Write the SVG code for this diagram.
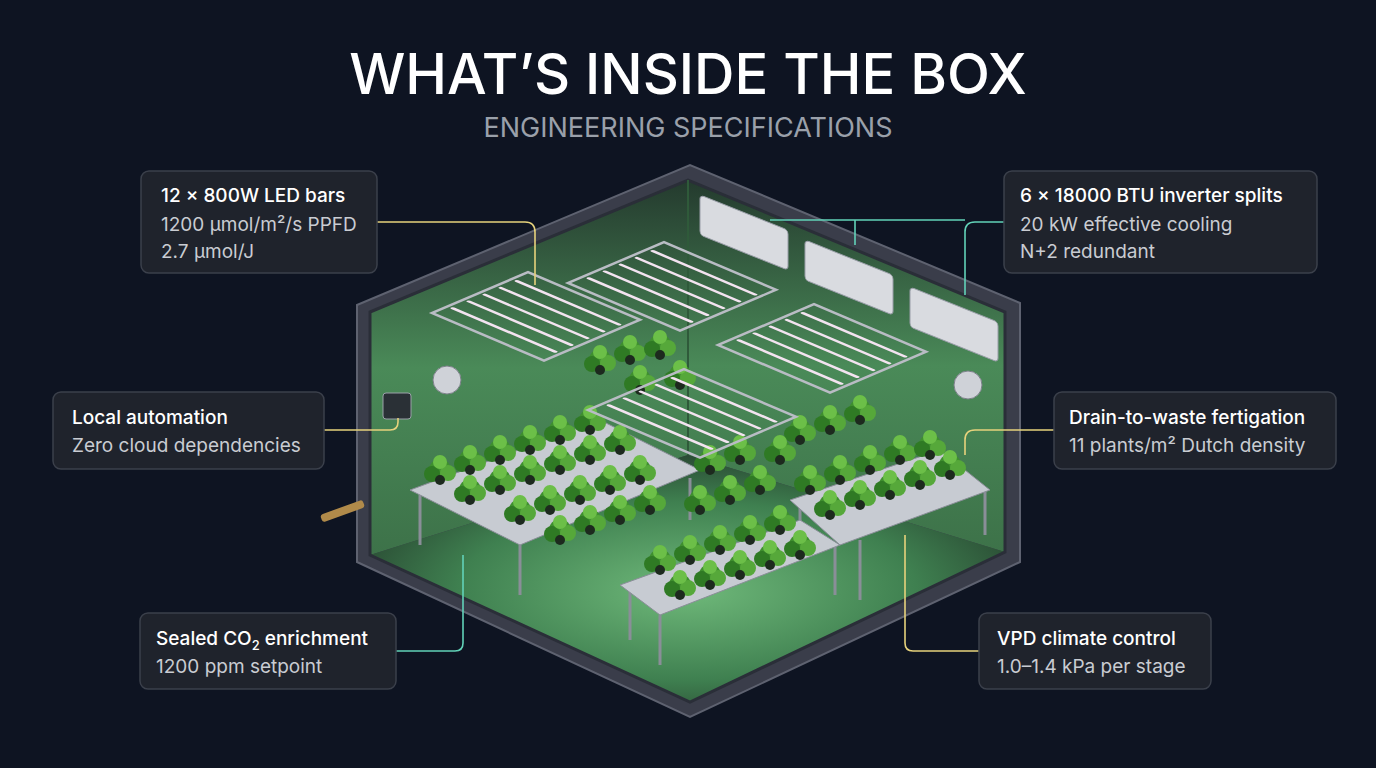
<svg xmlns="http://www.w3.org/2000/svg" width="1376" height="768" viewBox="0 0 1376 768">
<defs>
<style>
.t{font-family:"Inter","Liberation Sans",sans-serif}
.box{fill:#1f232c;stroke:#3b404b;stroke-width:1.5}
.h{font-size:19px;fill:#fff;font-weight:500}
.s{font-size:19px;fill:#c9ccd2}
.ly{fill:none;stroke:#e6d27c;stroke-width:1.6}
.lt{fill:none;stroke:#62d2b8;stroke-width:1.6}
.bar{stroke:#f3e3f0;stroke-width:4;stroke-linecap:round}
.frame{fill:none;stroke:#b9bcc4;stroke-width:4}
.leg{stroke:#8a8e98;stroke-width:3}
</style>
<radialGradient id="glow" cx="0.5" cy="0.55" r="0.6">
<stop offset="0" stop-color="#6fb97a"/><stop offset="0.6" stop-color="#3f8050"/><stop offset="1" stop-color="#243d2c"/>
</radialGradient>
<linearGradient id="wall" x1="0" y1="0" x2="0" y2="1">
<stop offset="0" stop-color="#243a2e"/><stop offset="0.5" stop-color="#4a8a58"/><stop offset="1" stop-color="#3d7249"/>
</linearGradient>
<g id="plant">
<circle cx="0" cy="0" r="11" fill="#3f8f2f"/>
<circle cx="-8" cy="4" r="8" fill="#2f7a24"/>
<circle cx="8" cy="3" r="8" fill="#56a83a"/>
<circle cx="0" cy="-8" r="7" fill="#6cbf48"/>
<circle cx="0" cy="10" r="5" fill="#1d2a1e"/>
</g>
<g id="fix">
<rect x="0" y="0" width="140" height="120" class="frame"/>
<line x1="6" y1="20" x2="134" y2="20" class="bar"/><line x1="6" y1="40" x2="134" y2="40" class="bar"/>
<line x1="6" y1="60" x2="134" y2="60" class="bar"/><line x1="6" y1="80" x2="134" y2="80" class="bar"/>
<line x1="6" y1="100" x2="134" y2="100" class="bar"/>
</g>
</defs>
<rect width="1376" height="768" fill="#0e1422"/>
<text class="t" x="688" y="94" text-anchor="middle" font-size="56" font-weight="500" fill="#fff">WHAT’S INSIDE THE BOX</text>
<text class="t" x="688" y="137" text-anchor="middle" font-size="27" fill="#9aa0aa">ENGINEERING SPECIFICATIONS</text>

<g id="room">
<polygon points="357,305 690,165 1020,303 1020,562 690,717 357,562" fill="#3a3d4a" stroke="#5e6270" stroke-width="2"/>
<polygon points="370,312 688,180 688,455 370,555" fill="url(#wall)"/>
<polygon points="688,180 1005,312 1005,552 688,455" fill="url(#wall)"/>
<polygon points="370,555 688,455 1005,552 690,702" fill="url(#glow)"/>
<polygon points="370,312 688,180 1005,312 1005,552 690,702 370,555" fill="none" stroke="#2a2e38" stroke-width="3"/>
<line x1="688" y1="180" x2="688" y2="455" stroke="#2f5a3a" stroke-width="2"/>
</g>

<g id="ac">
<g transform="matrix(1,0.4,0,1,700,195)"><rect width="88" height="40" rx="4" fill="#d9dbe0" stroke="#9a9ea8"/></g>
<g transform="matrix(1,0.4,0,1,805,240)"><rect width="88" height="40" rx="4" fill="#d9dbe0" stroke="#9a9ea8"/></g>
<g transform="matrix(1,0.4,0,1,910,287)"><rect width="88" height="40" rx="4" fill="#d9dbe0" stroke="#9a9ea8"/></g>
</g>

<g id="plants">
<line class="leg" x1="420" y1="495" x2="420" y2="545"/><line class="leg" x1="520" y1="545" x2="520" y2="595"/><line class="leg" x1="690" y1="478" x2="690" y2="520"/>
<line class="leg" x1="630" y1="590" x2="630" y2="640"/><line class="leg" x1="660" y1="615" x2="660" y2="665"/><line class="leg" x1="835" y1="545" x2="835" y2="595"/>
<line class="leg" x1="800" y1="505" x2="800" y2="550"/><line class="leg" x1="860" y1="540" x2="860" y2="600"/><line class="leg" x1="985" y1="492" x2="985" y2="535"/>
<polygon points="410,490 600,420 700,470 520,545" fill="#c7cbd2" stroke="#8a8e98"/>
<polygon points="620,585 800,520 840,545 660,615" fill="#c7cbd2" stroke="#8a8e98"/>
<polygon points="790,500 940,450 990,490 840,545" fill="#c7cbd2" stroke="#8a8e98"/>
<g>
<use href="#plant" x="440" y="470"/><use href="#plant" x="470" y="460"/><use href="#plant" x="500" y="450"/><use href="#plant" x="530" y="440"/><use href="#plant" x="560" y="430"/><use href="#plant" x="590" y="420"/>
<use href="#plant" x="470" y="490"/><use href="#plant" x="500" y="480"/><use href="#plant" x="530" y="470"/><use href="#plant" x="560" y="460"/><use href="#plant" x="590" y="450"/><use href="#plant" x="620" y="440"/>
<use href="#plant" x="520" y="510"/><use href="#plant" x="550" y="500"/><use href="#plant" x="580" y="490"/><use href="#plant" x="610" y="480"/><use href="#plant" x="640" y="470"/>
<use href="#plant" x="600" y="360"/><use href="#plant" x="630" y="350"/><use href="#plant" x="660" y="345"/><use href="#plant" x="640" y="380"/><use href="#plant" x="680" y="375"/>
<use href="#plant" x="560" y="530"/><use href="#plant" x="590" y="520"/><use href="#plant" x="620" y="510"/><use href="#plant" x="650" y="500"/>
<use href="#plant" x="660" y="560"/><use href="#plant" x="690" y="550"/><use href="#plant" x="720" y="540"/><use href="#plant" x="750" y="530"/><use href="#plant" x="780" y="520"/>
<use href="#plant" x="680" y="585"/><use href="#plant" x="710" y="575"/><use href="#plant" x="740" y="565"/><use href="#plant" x="770" y="555"/><use href="#plant" x="800" y="545"/>
<use href="#plant" x="700" y="500"/><use href="#plant" x="730" y="490"/><use href="#plant" x="760" y="480"/><use href="#plant" x="710" y="460"/><use href="#plant" x="740" y="450"/>
<use href="#plant" x="810" y="480"/><use href="#plant" x="840" y="470"/><use href="#plant" x="870" y="460"/><use href="#plant" x="900" y="450"/><use href="#plant" x="930" y="445"/>
<use href="#plant" x="830" y="505"/><use href="#plant" x="860" y="495"/><use href="#plant" x="890" y="485"/><use href="#plant" x="920" y="475"/><use href="#plant" x="950" y="465"/>
<use href="#plant" x="800" y="430"/><use href="#plant" x="830" y="420"/><use href="#plant" x="860" y="410"/><use href="#plant" x="780" y="450"/>
</g>
</g>

<g id="lights">
<g transform="matrix(0.8,0.34,0.8,-0.34,432,313)"><use href="#fix"/></g>
<g transform="matrix(0.8,0.34,0.8,-0.34,568,283)"><use href="#fix"/></g>
<g transform="matrix(0.8,0.34,0.8,-0.34,588,410)"><use href="#fix"/></g>
<g transform="matrix(0.8,0.34,0.8,-0.34,718,345)"><use href="#fix"/></g>
</g>

<g id="devices">
<rect x="383" y="393" width="28" height="26" rx="3" fill="#2a3036" stroke="#9aa0a8"/>
<circle cx="447" cy="380" r="14" fill="#cfd2d8" stroke="#7d818a"/>
<circle cx="968" cy="385" r="14" fill="#cfd2d8" stroke="#7d818a"/>
<rect x="320" y="515" width="45" height="8" rx="3" fill="#b08a4a" transform="rotate(-20 320 515)"/>
</g>

<g id="connectors">
<path class="ly" d="M377,222 H525 Q535,222 535,232 V285"/>
<path class="lt" d="M1004,222 H975 Q965,222 965,232 V295"/>
<path class="lt" d="M770,220 H965 M855,220 V245"/>
<path class="ly" d="M324,430 H390 Q398,430 398,422 V418"/>
<path class="ly" d="M1054,430 H975 Q965,430 965,440 V455"/>
<path class="lt" d="M396,651 H455 Q463,651 463,643 V555"/>
<path class="ly" d="M979,651 H913 Q905,651 905,643 V535"/>
</g>

<g id="n1"><rect class="box" x="141" y="171" width="236" height="102" rx="8"/>
<text class="t h" x="161" y="202">12 × 800W LED bars</text><text class="t s" x="161" y="231">1200 µmol/m²/s PPFD</text><text class="t s" x="161" y="258">2.7 µmol/J</text></g>
<g id="n2"><rect class="box" x="1004" y="171" width="313" height="102" rx="8"/>
<text class="t h" x="1020" y="202">6 × 18000 BTU inverter splits</text><text class="t s" x="1020" y="231">20 kW effective cooling</text><text class="t s" x="1020" y="258">N+2 redundant</text></g>
<g id="n3"><rect class="box" x="53" y="392" width="271" height="77" rx="8"/>
<text class="t h" x="72" y="424">Local automation</text><text class="t s" x="72" y="452">Zero cloud dependencies</text></g>
<g id="n4"><rect class="box" x="1054" y="392" width="282" height="77" rx="8"/>
<text class="t h" x="1069" y="424">Drain-to-waste fertigation</text><text class="t s" x="1069" y="452">11 plants/m² Dutch density</text></g>
<g id="n5"><rect class="box" x="140" y="613" width="256" height="76" rx="8"/>
<text class="t h" x="156" y="645">Sealed CO<tspan font-size="13" dy="5">2</tspan><tspan dy="-5"> enrichment</tspan></text><text class="t s" x="156" y="673">1200 ppm setpoint</text></g>
<g id="n6"><rect class="box" x="979" y="613" width="232" height="76" rx="8"/>
<text class="t h" x="997" y="645">VPD climate control</text><text class="t s" x="997" y="673">1.0–1.4 kPa per stage</text></g>
</svg>
